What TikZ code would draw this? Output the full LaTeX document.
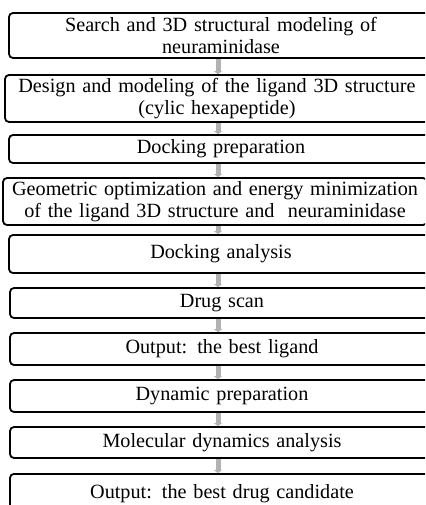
\documentclass[tikz,border=0pt]{standalone}
\usepackage{fontspec}
\setmainfont{Liberation Serif}
\usetikzlibrary{arrows.meta}

\tikzset{
  stepbox/.style={draw=black, line width=1.8pt, rounded corners=4pt, fill=white,
    minimum width=424pt, text width=424pt, align=center, inner sep=0pt,
    font=\fontsize{20.2}{21.5}\selectfont},
  flow/.style={draw=gray!60, line width=5pt, -{Triangle[length=3pt,width=8pt]}}
}

\begin{document}
\begin{tikzpicture}[x=1pt,y=-1pt]
        \clip (0,0) rectangle (425,505);
        \fill[white] (0,0) rectangle (425,505);
        % boxes, top to bottom
        \node[stepbox, minimum height=45pt] (search) at (221,35.5) {Search and 3D structural modeling of\\ neuraminidase};
        \node[stepbox, minimum height=47pt] (design) at (217,98.5) {Design and modeling of the ligand 3D structure\\ (cylic hexapeptide)};
        \node[stepbox, minimum height=28pt] (prep) at (221,149) {Docking preparation};
        \node[stepbox, minimum height=47pt] (geom) at (215,201.5) {Geometric optimization and energy minimization\\ of the ligand 3D structure and\ \ neuraminidase};
        \node[stepbox, minimum height=38pt] (dock) at (221,254) {Docking analysis};
        \node[stepbox, minimum height=30pt] (scan) at (222,303) {Drug scan};
        \node[stepbox, minimum height=32pt] (ligand) at (222,349) {Output: the best ligand};
        \node[stepbox, anchor=north, text height=25pt, text depth=20pt] (best) at (222,473) {Output: the best drug candidate};
        \node[stepbox, minimum height=32pt] (dynprep) at (222,396) {Dynamic preparation};
        \node[stepbox, minimum height=31pt] (md) at (222,442.5) {Molecular dynamics analysis};
        % gray arrows
        \foreach \a/\b in {search/design, design/prep, prep/geom, geom/dock, dock/scan, scan/ligand, ligand/dynprep, dynprep/md, md/best}
            \draw[flow] ([xshift=-3pt]\a.south -| prep.center) -- ([xshift=-3pt]\b.north -| prep.center);
    \end{tikzpicture}
\end{document}
